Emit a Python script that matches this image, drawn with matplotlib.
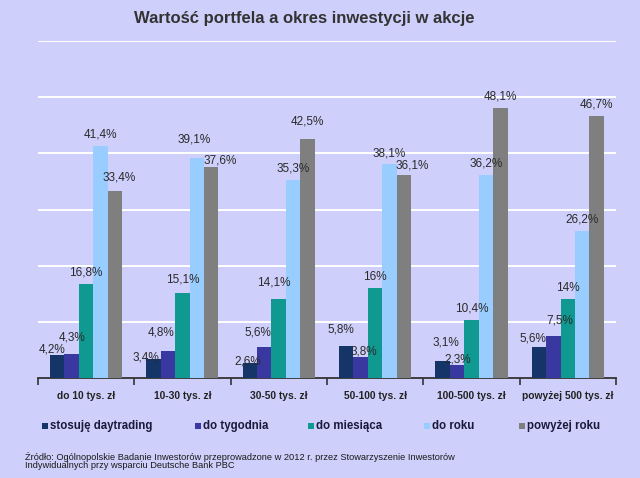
import numpy as np
import matplotlib
matplotlib.use("Agg")
import matplotlib.pyplot as plt

# data
groups = ["do 10 tys. zł", "10-30 tys. zł", "30-50 tys. zł", "50-100 tys. zł",
          "100-500 tys. zł", "powyżej 500 tys. zł"]
series = ["stosuję daytrading", "do tygodnia", "do miesiąca", "do roku", "powyżej roku"]
daytrading = [4.2, 3.4, 2.6, 5.8, 3.1, 5.6]
tydzien = [4.3, 4.8, 5.6, 3.8, 2.3, 7.5]
miesiac = [16.8, 15.1, 14.1, 16.0, 10.4, 14.0]
rok = [41.4, 39.1, 35.3, 38.1, 36.2, 26.2]
powyzej = [33.4, 37.6, 42.5, 36.1, 48.1, 46.7]

colors = ["#153468", "#3838a0", "#0f9990", "#99ccff", "#7f7f7f"]
bg = "#cfcffb"
font = ["Liberation Sans", "DejaVu Sans"]

# label placement tweaks (pixels: dx, height above bar top), as in the original
label_nudge = {
    (0, 0): (-5, 5), (1, 0): (1, 16), (4, 0): (4, 13),
    (0, 1): (-8, 2), (1, 1): (-7, 19), (2, 1): (0, 14), (3, 1): (-3, 19), (4, 1): (9, 6),
    (0, 2): (-2, 2), (1, 2): (-6, 14), (2, 2): (-5, 16), (4, 2): (0, 18),
    (0, 3): (-5, 16), (1, 3): (3, 5), (4, 3): (8, 10),
    (0, 4): (3, 18), (1, 4): (1, 6),
    (0, 5): (-6, 8), (1, 5): (6, 15),
}

fig = plt.figure(figsize=(6.4, 4.78), dpi=100, facecolor=bg)
ax = fig.add_axes([0.059, 0.209, 0.9035, 0.705])
ax.set_facecolor(bg)

x = np.arange(len(groups))
w = 0.15
values = [daytrading, tydzien, miesiac, rok, powyzej]
for i, (vals, c) in enumerate(zip(values, colors)):
    pos = x + (i - 2) * w
    ax.bar(pos, vals, width=w, color=c, zorder=3)
    for j, (px, v) in enumerate(zip(pos, vals)):
        dx, dy = label_nudge.get((i, j), (0, 11))
        txt = f"{v:g}".replace(".", ",") + "%"
        ax.annotate(txt, (px, v), textcoords="offset pixels", xytext=(dx, dy),
                    ha="center", va="center", fontsize=8.5, color="#2a2a2a",
                    family=font, zorder=4)

ax.set_ylim(0, 60)
ax.set_xlim(-0.5, len(groups) - 0.5)
for y in range(10, 61, 10):
    ax.axhline(y, color="white", lw=1.4, zorder=1)

for s in ["top", "right", "left"]:
    ax.spines[s].set_visible(False)
ax.spines["bottom"].set_color("#333333")
ax.spines["bottom"].set_linewidth(1.3)
ax.set_yticks([])
ax.set_xticks(x)
ax.set_xticklabels(groups, fontsize=7.4, fontweight="bold", family=font, color="#222222")
ax.tick_params(axis="x", which="major", length=0, pad=9)
ax.set_xticks(np.arange(-0.5, len(groups)), minor=True)
ax.tick_params(axis="x", which="minor", length=5, width=1.2, color="#333333", direction="out")

fig.text(0.476, 0.962, "Wartość portfela a okres inwestycji w akcje", ha="center", va="center",
         fontsize=12, fontweight="bold", color="#333333", family=font)

# legend, placed entry by entry like the original
leg_x = [45, 198, 311, 427, 522]
leg_y = 478 - 426
for lx, name, c in zip(leg_x, series, colors):
    fig.patches.append(plt.Rectangle(((lx - 3) / 640, (leg_y - 3) / 478), 6 / 640, 6 / 478,
                                     transform=fig.transFigure, facecolor=c, edgecolor="none"))
    fig.text((lx + 5) / 640, leg_y / 478, name, ha="left", va="center", fontsize=8.3,
             fontweight="bold", color="#1a1a3a", family=font)

fig.text(0.039, 0.017, "Źródło: Ogólnopolskie Badanie Inwestorów przeprowadzone w 2012 r. przez Stowarzyszenie Inwestorów\n"
         "Indywidualnych przy wsparciu Deutsche Bank PBC", ha="left", va="bottom",
         fontsize=6.65, color="#1a1a1a", family=font, linespacing=0.82)

fig.savefig("out.png", dpi=100, facecolor=bg)
